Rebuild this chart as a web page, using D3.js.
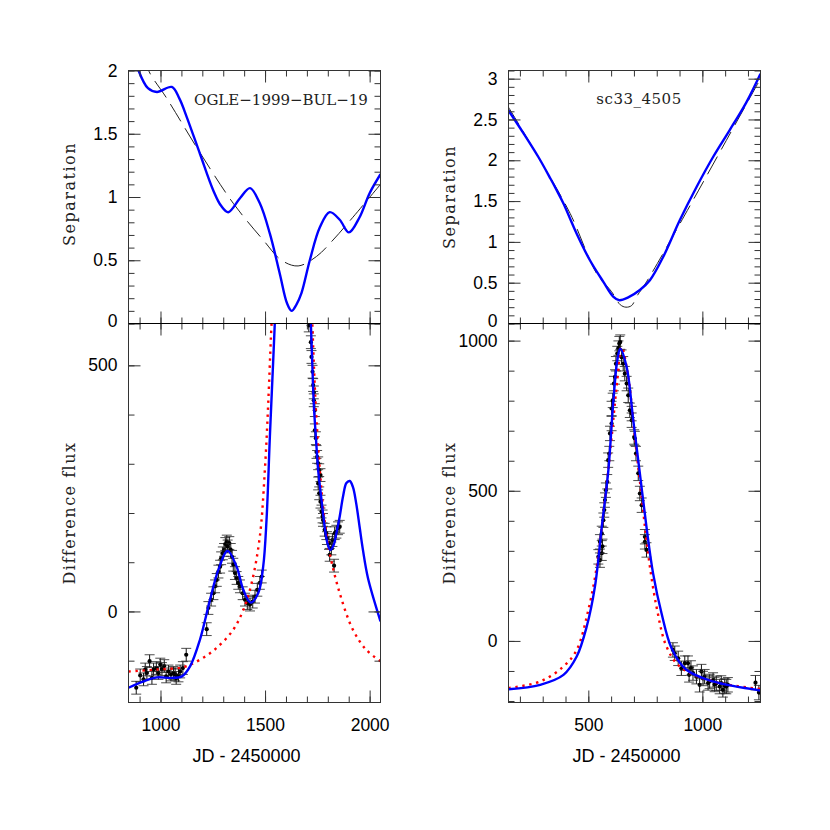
<!DOCTYPE html>
<html><head><meta charset="utf-8">
<script src="https://cdn.jsdelivr.net/npm/d3@7"></script>
<style>
html,body{margin:0;padding:0;background:#fff;}
svg{display:block;}
</style></head>
<body>
<script>
// ---------------- DATA ----------------
// Titles
const titleLeft = "OGLE\u22121999\u2212BUL\u221219";
const titleRight = "sc33_4505";
const yLabelTop = "Separation";
const yLabelBottom = "Difference flux";
const xLabel = "JD - 2450000";

// Tick values
const ticksSepLeft = [0, 0.5, 1, 1.5, 2];
const ticksSepRight = [0, 0.5, 1, 1.5, 2, 2.5, 3];
const ticksFluxLeft = [0, 500];
const ticksFluxRight = [0, 500, 1000];
const ticksJdLeft = [1000, 1500, 2000];
const ticksJdRight = [500, 1000];

// Left event: separation (blue = model fit, dashed = simple model)
const sepLeftFit = [[870,2.15],[895,2.0],[940,1.86],[983,1.83],[1054,1.87],[1090,1.78],[1126,1.63],[1189,1.34],[1253,1.05],[1290,0.93],[1324,0.88],[1380,0.99],[1428,1.07],[1475,0.95],[1523,0.71],[1571,0.39],[1605,0.16],[1627,0.10],[1650,0.15],[1674,0.24],[1714,0.50],[1762,0.76],[1809,0.88],[1857,0.82],[1901,0.72],[1952,0.84],[2000,1.03],[2052,1.18]];
const sepLeftDash = [[925,2.12],[943,2.0],[1030,1.78],[1189,1.35],[1348,0.95],[1491,0.66],[1579,0.50],[1658,0.455],[1746,0.53],[1825,0.66],[1920,0.84],[2052,1.10]];

// Left event: difference flux
const fluxLeftFitA = [[847,-155],[919,-142],[983,-134],[1054,-135],[1102,-132],[1142,-111],[1189,-57],[1237,24],[1277,85],[1321,123],[1364,91],[1396,44],[1431,18],[1467,37],[1491,91],[1507,186],[1523,355],[1539,510],[1550,620]];
const fluxLeftFitB = [[1714,640],[1719,585],[1727,489],[1733,421],[1743,354],[1754,287],[1770,226],[1785,172],[1798,139],[1812,125],[1828,135],[1841,159],[1857,193],[1873,234],[1889,261],[1905,265],[1920,253],[1936,219],[1952,172],[1968,125],[1992,68],[2052,-20]];
const fluxLeftPsplA = [[847,-122],[983,-118],[1110,-113],[1189,-98],[1269,-74],[1348,-37],[1396,3],[1436,58],[1475,152],[1499,287],[1515,422],[1528,557],[1535,620]];
const fluxLeftPsplB = [[1722,640],[1726,585],[1738,455],[1746,389],[1762,287],[1777,213],[1793,159],[1809,118],[1857,37],[1920,-37],[1984,-78],[2052,-101]];
const fluxLeftObs = [[884,-155],[903,-130],[919,-138],[927,-118],[935,-125],[948,-101],[959,-135],[967,-118],[980,-115],[990,-125],[999,-108],[1007,-117],[1018,-111],[1027,-132],[1038,-122],[1050,-128],[1062,-125],[1070,-128],[1075,-135],[1086,-130],[1094,-122],[1107,-115],[1123,-88],
  [1221,-36],[1229,7],[1242,24],[1253,37],[1261,51],[1269,64],[1277,81],[1285,91],[1290,108],[1298,118],[1304,125],[1310,137],[1317,142],[1321,132],[1329,139],[1336,125],[1342,111],[1348,95],[1356,78],[1364,68],[1372,58],[1380,51],[1393,37],[1404,24],[1415,17],[1428,14],[1441,20],[1452,30],[1463,44],[1475,58],[1484,71],
  [1709,581],[1719,547],[1722,517],[1727,487],[1730,460],[1733,445],[1733,429],[1738,409],[1738,368],[1743,352],[1746,324],[1749,314],[1754,301],[1759,287],[1765,277],[1754,260],[1759,240],[1765,223],[1770,203],[1775,193],[1777,186],[1785,166],[1793,159],[1796,149],[1806,139],[1809,115],[1817,128],[1822,145],[1830,93],[1833,159],[1841,162],[1849,169],[1857,172]];
const fluxLeftErr = 13;

// Right event: separation
const sepRightFit = [[150,2.61],[216,2.33],[281,2.04],[335,1.77],[360,1.64],[391,1.47],[449,1.10],[507,0.775],[566,0.51],[609,0.33],[636,0.285],[675,0.32],[726,0.41],[770,0.53],[828,0.815],[901,1.265],[974,1.67],[1047,2.04],[1120,2.37],[1193,2.71],[1255,3.06]];
const sepRightDash = [[150,2.65],[289,2.0],[420,1.35],[537,0.61],[602,0.39],[640,0.23],[665,0.20],[690,0.22],[712,0.33],[755,0.51],[901,1.22],[1255,3.0]];

// Right event: difference flux
const fluxRightFit = [[150,-161],[289,-146],[391,-113],[449,-52],[493,48],[529,181],[559,380],[588,569],[609,791],[627,934],[640,973],[668,912],[697,735],[726,558],[755,380],[784,225],[821,92],[865,-24],[930,-96],[1047,-135],[1255,-165]];
const fluxRightPspl = [[150,-157],[289,-135],[391,-85],[449,-30],[500,103],[537,247],[566,425],[595,624],[624,846],[646,979],[675,879],[704,679],[734,480],[762,292],[799,114],[843,-19],[901,-85],[1047,-135],[1255,-160]];
const fluxRightObs = [[544,280],[551,269],[551,330],[559,292],[559,358],[562,315],[566,402],[570,436],[573,469],[577,502],[583,530],[587,602],[592,624],[595,691],[602,724],[602,774],[607,801],[612,857],[617,879],[621,923],[627,957],[632,975],[636,990],[640,995],
  [646,945],[653,923],[660,890],[668,857],[675,818],[682,768],[690,735],[690,757],[701,679],[704,674],[709,624],[719,558],[726,491],[734,452],[748,347],[748,330],[755,303],
  [871,-30],[879,-41],[894,-58],[908,-91],[923,-74],[937,-74],[942,-113],[950,-90],[959,-107],[974,-119],[988,-146],[996,-102],[1003,-125],[1010,-119],[1025,-140],[1032,-135],[1047,-130],[1054,-145],[1061,-141],[1076,-152],[1083,-140],[1090,-163],[1098,-150],[1105,-152],[1112,-146],[1233,-139],[1248,-172]];
const fluxRightErr = 24;

// ---------------- LAYOUT ----------------
const W = 830, H = 830;
const yTop = 70.5, ySep = 323.5, yBot = 702.5;
const PL = {x0: 128.5, x1: 380.5};
const PR = {x0: 508.5, x1: 760.5};
const FRAME = "#333";
const SANS = "'Liberation Sans', Arial, Helvetica, sans-serif";
const SERIF = "'DejaVu Serif', 'Liberation Serif', serif";

const svg = d3.select("body").append("svg").attr("width", W).attr("height", H);
svg.append("rect").attr("width", W).attr("height", H).attr("fill", "#fff");
const defs = svg.append("defs");

const xL = d3.scaleLinear().domain([847, 2052]).range([PL.x0, PL.x1]);
const xR = d3.scaleLinear().domain([150, 1255]).range([PR.x0, PR.x1]);
const yTL = d3.scaleLinear().domain([0, 2]).range([ySep, yTop]);
const yTR = d3.scaleLinear().domain([0, 3.1]).range([ySep, yTop]);
const yBL = d3.scaleLinear().domain([-185, 585]).range([yBot, ySep]);
const yBR = d3.scaleLinear().domain([-205, 1057]).range([yBot, ySep]);

function minorTicks(scale, step) {
  const [a, b] = scale.domain();
  const start = Math.ceil(Math.min(a, b) / step), end = Math.floor(Math.max(a, b) / step);
  return d3.range(start, end + 1).map(i => +(i * step).toFixed(6));
}
function styleAxis(g) {
  g.select(".domain").remove();
  g.selectAll(".tick line").attr("stroke", FRAME).attr("stroke-width", 1);
  g.selectAll(".tick text").attr("font-family", SANS).attr("font-size", 17.5).attr("fill", "#000");
}
const fmtNum = d3.format("~g");

function panel(id, x, y, P, y0, y1, majorY, minorStepY, majorX, minorStepX, isTop, showXLabels) {
  const g = svg.append("g");
  defs.append("clipPath").attr("id", id).append("rect")
    .attr("x", P.x0).attr("y", y1).attr("width", P.x1 - P.x0).attr("height", y0 - y1);
  const plot = g.append("g").attr("clip-path", `url(#${id})`);
  // left axis (major, labelled)
  const la = g.append("g").attr("transform", `translate(${P.x0},0)`)
    .call(d3.axisLeft(y).tickValues(majorY).tickSize(-12).tickPadding(11).tickFormat(fmtNum)).call(styleAxis);
  if (isTop) la.selectAll(".tick text").filter(d => d === 0).attr("dy", "0.18em");
  g.append("g").attr("transform", `translate(${P.x0},0)`)
    .call(d3.axisLeft(y).tickValues(minorTicks(y, minorStepY)).tickSize(-6).tickFormat("")).call(styleAxis);
  // right axis
  g.append("g").attr("transform", `translate(${P.x1},0)`)
    .call(d3.axisRight(y).tickValues(majorY).tickSize(-12).tickFormat("")).call(styleAxis);
  g.append("g").attr("transform", `translate(${P.x1},0)`)
    .call(d3.axisRight(y).tickValues(minorTicks(y, minorStepY)).tickSize(-6).tickFormat("")).call(styleAxis);
  // top edge (ticks downward)
  g.append("g").attr("transform", `translate(0,${y1})`)
    .call(d3.axisTop(x).tickValues(majorX).tickSize(-12).tickFormat("")).call(styleAxis);
  g.append("g").attr("transform", `translate(0,${y1})`)
    .call(d3.axisTop(x).tickValues(minorTicks(x, minorStepX)).tickSize(-6).tickFormat("")).call(styleAxis);
  // bottom edge (ticks upward)
  g.append("g").attr("transform", `translate(0,${y0})`)
    .call(d3.axisBottom(x).tickValues(majorX).tickSize(-12).tickPadding(16)
      .tickFormat(showXLabels ? d3.format("d") : "")).call(styleAxis);
  g.append("g").attr("transform", `translate(0,${y0})`)
    .call(d3.axisBottom(x).tickValues(minorTicks(x, minorStepX)).tickSize(-6).tickFormat("")).call(styleAxis);
  // frame
  g.append("rect").attr("x", P.x0).attr("y", y1).attr("width", P.x1 - P.x0).attr("height", y0 - y1)
    .attr("fill", "none").attr("stroke", FRAME).attr("stroke-width", 1);
  return plot;
}

function drawLine(plot, data, x, y, stroke, width, dash) {
  const line = d3.line().x(d => x(d[0])).y(d => y(d[1])).curve(d3.curveCatmullRom.alpha(0.5));
  plot.append("path").datum(data).attr("d", line)
    .attr("fill", "none").attr("stroke", stroke).attr("stroke-width", width)
    .attr("stroke-dasharray", dash || null).attr("stroke-linejoin", "round");
}

function drawPoints(plot, data, x, y, err) {
  const pg = plot.append("g");
  const sel = pg.selectAll("g.pt").data(data).join("g").attr("class", "pt");
  sel.append("line").attr("x1", d => x(d[0])).attr("x2", d => x(d[0]))
    .attr("y1", d => y(d[1] - err)).attr("y2", d => y(d[1] + err))
    .attr("stroke", "#111").attr("stroke-width", 1);
  sel.append("line").attr("x1", d => x(d[0]) - 5).attr("x2", d => x(d[0]) + 5)
    .attr("y1", d => y(d[1] + err)).attr("y2", d => y(d[1] + err))
    .attr("stroke", "#222").attr("stroke-opacity", 0.8).attr("stroke-width", 1);
  sel.append("line").attr("x1", d => x(d[0]) - 5).attr("x2", d => x(d[0]) + 5)
    .attr("y1", d => y(d[1] - err)).attr("y2", d => y(d[1] - err))
    .attr("stroke", "#222").attr("stroke-opacity", 0.8).attr("stroke-width", 1);
  sel.append("circle").attr("cx", d => x(d[0])).attr("cy", d => y(d[1])).attr("r", 2.1).attr("fill", "#000");
}

// ---------------- PANELS ----------------
// Top-left
const pTL = panel("cTL", xL, yTL, PL, ySep, yTop, ticksSepLeft, 0.1, ticksJdLeft, 100, true, false);
drawLine(pTL, sepLeftDash, xL, yTL, "#222", 1, "20,8");
drawLine(pTL, sepLeftFit, xL, yTL, "#0000ff", 2.4);

// Bottom-left
const pBL = panel("cBL", xL, yBL, PL, yBot, ySep, ticksFluxLeft, 100, ticksJdLeft, 100, false, true);
drawPoints(pBL, fluxLeftObs, xL, yBL, fluxLeftErr);
drawLine(pBL, fluxLeftPsplA, xL, yBL, "#ff0000", 2.4, "2.4,4.6");
drawLine(pBL, fluxLeftPsplB, xL, yBL, "#ff0000", 2.4, "2.4,4.6");
drawLine(pBL, fluxLeftFitA, xL, yBL, "#0000ff", 2.4);
drawLine(pBL, fluxLeftFitB, xL, yBL, "#0000ff", 2.4);

// Top-right
const pTR = panel("cTR", xR, yTR, PR, ySep, yTop, ticksSepRight, 0.1, ticksJdRight, 100, true, false);
drawLine(pTR, sepRightDash, xR, yTR, "#222", 1, "20,8");
drawLine(pTR, sepRightFit, xR, yTR, "#0000ff", 2.4);

// Bottom-right
const pBR = panel("cBR", xR, yBR, PR, yBot, ySep, ticksFluxRight, 100, ticksJdRight, 100, false, true);
drawPoints(pBR, fluxRightObs, xR, yBR, fluxRightErr);
drawLine(pBR, fluxRightPspl, xR, yBR, "#ff0000", 2.4, "2.4,4.6");
drawLine(pBR, fluxRightFit, xR, yBR, "#0000ff", 2.4);

// Separator lines
[PL, PR].forEach(P => {
  svg.append("line").attr("x1", P.x0).attr("x2", P.x1).attr("y1", ySep).attr("y2", ySep)
    .attr("stroke", "#000").attr("stroke-width", 1.2);
});

// ---------------- TEXT ----------------
function serifText(sel, size, ls) {
  return sel.attr("font-family", SERIF).attr("font-size", size).attr("letter-spacing", ls)
    .attr("fill", "#222").attr("text-anchor", "middle");
}
serifText(svg.append("text").attr("x", 281).attr("y", 105), 15, 0).text(titleLeft);
serifText(svg.append("text").attr("x", 639).attr("y", 104), 15, 0.5).text(titleRight);

function yLabel(x, y, txt) {
  serifText(svg.append("text").attr("transform", `translate(${x},${y}) rotate(-90)`), 16, 1.5).text(txt);
}
yLabel(75, 194, yLabelTop);
yLabel(455, 197, yLabelTop);
yLabel(75, 513, yLabelBottom);
yLabel(455, 513, yLabelBottom);

[[(PL.x0 + PL.x1) / 2 - 8], [(PR.x0 + PR.x1) / 2 - 8]].forEach(([cx]) => {
  svg.append("text").attr("x", cx).attr("y", 762).attr("text-anchor", "middle")
    .attr("font-family", SANS).attr("font-size", 18).attr("fill", "#000").text(xLabel);
});
</script>
</body></html>
